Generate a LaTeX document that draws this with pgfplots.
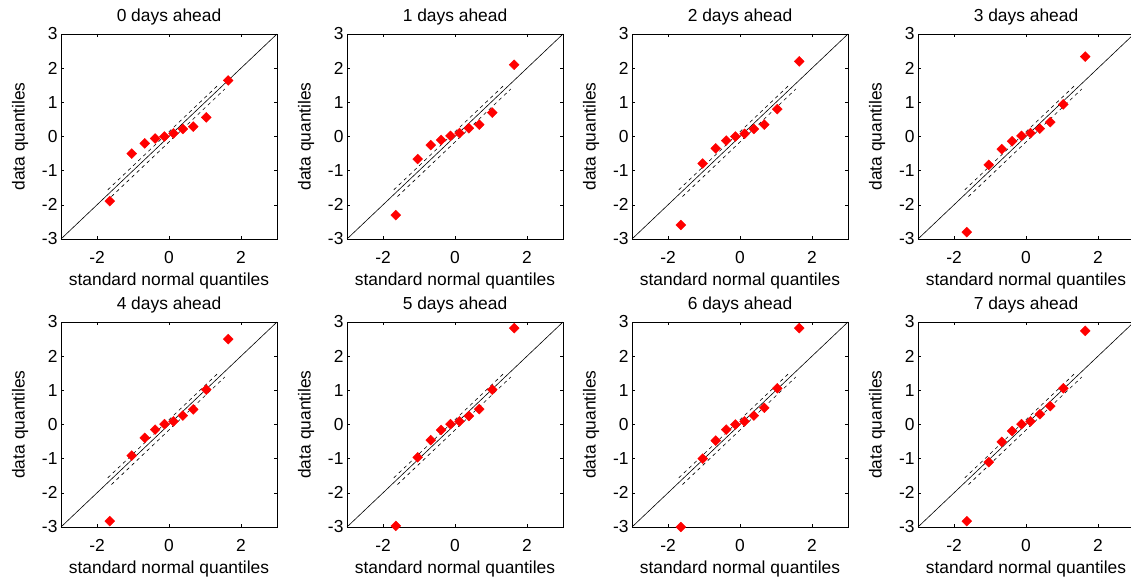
\documentclass[border=0pt]{standalone}
\usepackage{pgfplots}
\pgfplotsset{compat=1.18}
\usepackage{fontspec}
\setmainfont{Liberation Sans}
\pgfplotsset{qq/.style={
  scale only axis, width=216pt, height=205pt,
  xmin=-3,xmax=3,ymin=-3,ymax=3,
  xtick={-2,0,2}, ytick={-3,-2,-1,0,1,2,3},
  tick align=inside, tick pos=both, major tick length=3pt,
  tick style={black, line width=0.5pt},
  axis line style={black, line width=0.6pt},
  font=\fontsize{17.4}{20}\selectfont,
  /pgf/number format/assume math mode=true,
  xlabel={standard normal quantiles}, ylabel={data quantiles},
  xticklabel style={yshift=-9pt},
  xlabel style={yshift=-2pt},
  ylabel style={yshift=7pt},
  title style={yshift=-1pt},
  anchor=north west,
  clip=false,
}}
\newcommand{\qq}[4]{%
\begin{axis}[qq, at={(#1pt,#2pt)}, title={#3}]
\addplot[black, line width=0.6pt] coordinates {(-3,-3) (3,3)};
\addplot[black, line width=0.6pt, dash pattern=on 3.5pt off 3.5pt] coordinates {(-1.7,-1.56) (1.35,1.49)};
\addplot[black, line width=0.6pt, dash pattern=on 3.5pt off 3.5pt] coordinates {(-1.6,-1.76) (1.55,1.39)};
\addplot[only marks, mark=square*, mark size=3.5pt, mark options={rotate=45, fill=red, draw=red}] coordinates {#4};
\end{axis}}
\begin{document}
\begin{tikzpicture}
\qq{61}{-34}{0 days ahead}{(-1.645,-1.89) (-1.036,-0.50) (-0.674,-0.20) (-0.385,-0.06) (-0.126,0.00) (0.126,0.09) (0.385,0.22) (0.674,0.29) (1.036,0.56) (1.645,1.64)}
\qq{347}{-34}{1 days ahead}{(-1.645,-2.30) (-1.036,-0.66) (-0.674,-0.25) (-0.385,-0.10) (-0.126,0.02) (0.126,0.10) (0.385,0.24) (0.674,0.35) (1.036,0.70) (1.645,2.10)}
\qq{632}{-34}{2 days ahead}{(-1.645,-2.59) (-1.036,-0.79) (-0.674,-0.35) (-0.385,-0.12) (-0.126,0.00) (0.126,0.08) (0.385,0.22) (0.674,0.35) (1.036,0.80) (1.645,2.20)}
\qq{918}{-34}{3 days ahead}{(-1.645,-2.80) (-1.036,-0.83) (-0.674,-0.37) (-0.385,-0.14) (-0.126,0.02) (0.126,0.10) (0.385,0.23) (0.674,0.42) (1.036,0.94) (1.645,2.34)}
\qq{61}{-322}{4 days ahead}{(-1.645,-2.83) (-1.036,-0.91) (-0.674,-0.39) (-0.385,-0.15) (-0.126,0.01) (0.126,0.09) (0.385,0.26) (0.674,0.44) (1.036,1.02) (1.645,2.50)}
\qq{347}{-322}{5 days ahead}{(-1.645,-2.97) (-1.036,-0.96) (-0.674,-0.46) (-0.385,-0.16) (-0.126,0.01) (0.126,0.09) (0.385,0.25) (0.674,0.45) (1.036,1.02) (1.645,2.82)}
\qq{632}{-322}{6 days ahead}{(-1.645,-3.00) (-1.036,-1.00) (-0.674,-0.47) (-0.385,-0.15) (-0.126,0.00) (0.126,0.09) (0.385,0.26) (0.674,0.49) (1.036,1.06) (1.645,2.82)}
\qq{918}{-322}{7 days ahead}{(-1.645,-2.83) (-1.036,-1.10) (-0.674,-0.51) (-0.385,-0.19) (-0.126,0.01) (0.126,0.09) (0.385,0.30) (0.674,0.54) (1.036,1.06) (1.645,2.74)}
\pgfresetboundingbox
\useasboundingbox (0pt,0pt) rectangle (1131pt,-577pt);
\end{tikzpicture}
\end{document}
